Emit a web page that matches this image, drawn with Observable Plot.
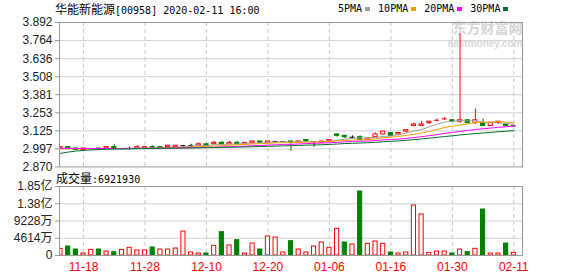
<!DOCTYPE html>
<html>
<head>
<meta charset="utf-8">
<script src="https://cdn.jsdelivr.net/npm/d3@7"></script>
<script src="https://cdn.jsdelivr.net/npm/@observablehq/plot@0.6"></script>
<style>
  html, body { margin: 0; padding: 0; background: #fff; }
  #wrap { position: relative; width: 578px; height: 276px; background: #fff; overflow: hidden; }
  .abs { position: absolute; white-space: nowrap; }
  .mono { font-family: "DejaVu Sans Mono", "Noto Sans CJK SC", monospace; font-size: 10px; color: #000; line-height: 12px; }
  .cjk { font-family: "Noto Sans CJK SC", sans-serif; font-size: 12px; }
  .sq { display: inline-block; width: 5px; height: 4px; margin-left: 3px; vertical-align: 1px; }
</style>
</head>
<body>
<div id="wrap">
  <div id="price" class="abs" style="left:0;top:0"></div>
  <div id="vol" class="abs" style="left:0;top:170px"></div>
  <div class="abs mono" style="left:55px;top:3px"><span class="cjk">华能新能源</span>[00958] 2020-02-11 16:00</div>
  <div id="legend" class="abs mono" style="left:338px;top:3px"></div>
  <div id="vlabel" class="abs mono" style="left:56px;top:172px"></div>
</div>
<script>
const dates = ["11-13","11-14","11-15","11-18","11-19","11-20","11-21","11-22","11-25","11-26",
  "11-27","11-28","11-29","12-02","12-03","12-04","12-05","12-06","12-09","12-10",
  "12-11","12-12","12-13","12-16","12-17","12-18","12-19","12-20","12-23","12-24",
  "12-27","12-30","12-31","01-02","01-03","01-06","01-07","01-08","01-09","01-10",
  "01-13","01-14","01-15","01-16","01-17","01-20","01-21","01-22","01-23","01-24",
  "01-29","01-30","01-31","02-03","02-04","02-05","02-06","02-07","02-10","02-11"];
const open = [3.00,3.01,3.00,2.99,3.00,3.00,3.00,3.01,3.00,3.00, 3.00,3.00,3.01,3.01,3.01,3.01,3.02,3.02,3.02,3.03,
  3.03,3.04,3.03,3.04,3.03,3.04,3.05,3.04,3.05,3.05, 3.05,3.04,3.06,3.05,3.04,3.05,3.10,3.09,3.08,3.08,
  3.06,3.08,3.10,3.11,3.10,3.12,3.16,3.16,3.18,3.20, 3.21,3.20,3.19,3.20,3.18,3.18,3.16,3.18,3.17,3.16];
const high = [3.01,3.01,3.00,3.00,3.00,3.00,3.01,3.03,3.00,3.01, 3.02,3.01,3.02,3.01,3.02,3.02,3.02,3.03,3.04,3.03,
  3.05,3.05,3.05,3.05,3.04,3.05,3.05,3.05,3.05,3.05, 3.05,3.05,3.06,3.05,3.05,3.06,3.10,3.09,3.09,3.09,
  3.07,3.11,3.12,3.11,3.11,3.13,3.18,3.19,3.19,3.21, 3.22,3.20,3.81,3.20,3.28,3.21,3.18,3.19,3.17,3.16];
const low = [3.00,3.00,2.99,2.99,2.99,2.99,3.00,3.00,2.99,2.99, 3.00,3.00,3.00,3.00,3.01,3.01,3.01,3.01,3.02,3.02,
  3.03,3.03,3.03,3.03,3.03,3.04,3.04,3.04,3.05,3.05, 2.98,3.04,3.05,3.01,3.04,3.05,3.08,3.07,3.07,3.06,
  3.06,3.08,3.10,3.09,3.09,3.11,3.16,3.16,3.17,3.19, 3.20,3.19,3.18,3.18,3.17,3.16,3.16,3.17,3.16,3.16];
const close = [3.01,3.00,2.99,3.00,3.00,2.99,3.01,3.00,3.00,3.00, 3.01,3.01,3.00,3.00,3.02,3.02,3.02,3.02,3.03,3.02,
  3.04,3.03,3.04,3.03,3.04,3.05,3.04,3.05,3.05,3.05, 3.04,3.05,3.05,3.05,3.05,3.06,3.09,3.08,3.08,3.06,
  3.07,3.10,3.12,3.09,3.11,3.13,3.17,3.17,3.19,3.20, 3.21,3.19,3.20,3.18,3.20,3.16,3.18,3.19,3.16,3.16];
const prevClose0 = 3.00;
const volume = [17.8e6,24e6,16e6,5.4e6,15e6,16e6,10.7e6,8.9e6,15e6,20.5e6,
  13.4e6,13.4e6,21.4e6,16e6,16e6,18.7e6,64e6,8e6,5.4e6,5.4e6,
  25.9e6,62.4e6,26.8e6,41e6,5.4e6,32e6,16e6,50.8e6,48e6,8e6,
  38.3e6,16e6,8e6,24e6,34.8e6,20.5e6,71.3e6,34.8e6,29.4e6,171e6,
  31.2e6,37.5e6,31.2e6,8e6,5.4e6,8e6,133.8e6,109.7e6,7e6,10.7e6,
  10.7e6,5.4e6,16e6,9e6,17.8e6,123e6,5.4e6,5.4e6,32e6,6921930];
const ma5 = [3.002,3.002,3.000,3.000,3.000,2.996,2.998,3.000,3.000,3.000, 3.004,3.004,3.004,3.004,3.008,3.010,3.012,3.016,3.022,3.022,
  3.026,3.028,3.032,3.032,3.036,3.038,3.040,3.042,3.046,3.048, 3.046,3.048,3.048,3.048,3.048,3.052,3.060,3.066,3.072,3.074,
  3.076,3.078,3.086,3.088,3.098,3.110,3.124,3.134,3.154,3.172, 3.188,3.192,3.198,3.196,3.196,3.186,3.184,3.182,3.178,3.170];
const ma10 = [2.998,2.998,2.998,2.999,2.999,2.999,2.999,2.999,3.000,3.000, 3.000,3.001,3.002,3.002,3.004,3.007,3.008,3.010,3.013,3.015,
  3.018,3.020,3.024,3.027,3.029,3.032,3.034,3.037,3.039,3.042, 3.042,3.044,3.045,3.047,3.048,3.049,3.054,3.057,3.060,3.061,
  3.064,3.069,3.076,3.080,3.086,3.093,3.101,3.110,3.121,3.135, 3.149,3.158,3.166,3.175,3.184,3.187,3.188,3.190,3.187,3.183];
const ma20 = [3.001,3.001,3.000,3.000,3.000,3.000,3.000,3.000,3.001,3.001, 3.001,3.002,3.002,3.003,3.003,3.004,3.005,3.006,3.007,3.008,
  3.009,3.011,3.013,3.015,3.017,3.020,3.021,3.024,3.026,3.029, 3.030,3.032,3.035,3.037,3.039,3.041,3.044,3.047,3.050,3.052,
  3.053,3.057,3.061,3.064,3.067,3.071,3.078,3.084,3.091,3.098, 3.107,3.114,3.121,3.128,3.135,3.140,3.145,3.150,3.154,3.159];
const ma30 = [2.966,2.975,2.982,2.987,2.990,2.993,2.995,2.996,2.997,2.998, 2.999,3.000,3.000,3.001,3.002,3.003,3.003,3.004,3.005,3.006,
  3.007,3.008,3.009,3.010,3.011,3.013,3.014,3.016,3.017,3.019, 3.020,3.022,3.024,3.025,3.027,3.029,3.032,3.035,3.037,3.039,
  3.041,3.044,3.048,3.051,3.054,3.058,3.063,3.068,3.073,3.079, 3.085,3.090,3.096,3.101,3.106,3.110,3.114,3.119,3.123,3.126];
const priceTicks = [2.870,2.997,3.125,3.253,3.381,3.508,3.636,3.764,3.892];
const priceTickLabels = ["2.870","2.997","3.125","3.253","3.381","3.508","3.636","3.764","3.892"];
const volTicks = [0,46140000,92280000,138420000,184560000];
const volTickLabels = ["0","4614万","9228万","1.38亿","1.85亿"];
const dateTickLabels = ["11-18","11-28","12-10","12-20","01-06","01-16","01-30","02-11"];
const maNames = ["5PMA","10PMA","20PMA","30PMA"];
const maColors = ["#a0a0a0","#f2a100","#ff00ff","#00702c"];
const title = "华能新能源[00958] 2020-02-11 16:00";
const volLabel = "成交量";
const lastVolume = 6921930;

const RED = "#ff0000", GREEN = "#008000", BLACK = "#000000";
const data = dates.map((d, i) => ({
  i, date: d, o: open[i], h: high[i], l: low[i], c: close[i], v: volume[i],
  pc: i ? close[i - 1] : prevClose0
}));
const candleColor = d => d.c > d.o ? RED : d.c < d.o ? GREEN : d.c > d.pc ? RED : d.c < d.pc ? GREEN : BLACK;
const volUp = d => d.c >= d.pc;
const maSeries = [ma5, ma10, ma20, ma30];
const maData = maSeries.map((arr, k) => arr.map((v, i) => ({i, v, k})));
const tickIdx = dateTickLabels.map(l => dates.indexOf(l));
const HW = 0.27;

const xOpt = {domain: [-0.13, 60.13], axis: null};
const common = {
  width: 578, marginLeft: 59, marginRight: 56,
  color: {type: "identity"},
  style: {fontFamily: "'Liberation Sans', 'Noto Sans CJK SC', sans-serif", fontSize: "12px", background: "transparent", color: "#222", overflow: "visible"}
};

const price = Plot.plot({
  ...common,
  height: 170, marginTop: 22, marginBottom: 3.6,
  x: xOpt,
  y: {domain: [2.870, 3.892], axis: null},
  marks: [
    Plot.text([title], {text: d => "东方财富网", frameAnchor: "top-right", textAnchor: "end", lineAnchor: "top", dy: 1, dx: 0, fontSize: 14, fontWeight: "bold", fill: "#d6d6d6", fontFamily: "Noto Sans CJK SC"}),
    Plot.text([title], {text: d => "eastmoney.com", frameAnchor: "top-right", textAnchor: "end", lineAnchor: "top", dy: 17, dx: 0, fontSize: 10, fontWeight: "bold", fill: "#dadada"}),
    Plot.ruleY(priceTicks.slice(1, -1), {stroke: "#d2d2d2"}),
    Plot.ruleX(tickIdx, {stroke: "#c8c8c8", strokeDasharray: "4,3"}),
    Plot.axisY({ticks: priceTicks, tickFormat: d => priceTickLabels[priceTicks.indexOf(d)], tickSize: 4, tickPadding: 3, stroke: "#999", fill: "#222", label: null}),
    Plot.ruleX(data, {x: "i", y1: "l", y2: "h", stroke: candleColor, clip: true}),
    Plot.rect(data.filter(d => d.o !== d.c), {x1: d => d.i - HW, x2: d => d.i + HW, y1: "o", y2: "c", fill: d => d.c > d.o ? "#ffffff" : GREEN, stroke: candleColor, clip: true}),
    Plot.ruleY(data.filter(d => d.o === d.c), {y: "c", x1: d => d.i - HW - 0.06, x2: d => d.i + HW + 0.06, stroke: candleColor, clip: true}),
    ...maData.map((arr, k) => Plot.line(arr, {x: "i", y: "v", stroke: maColors[k], strokeWidth: 1, clip: true})),
    Plot.frame({stroke: "#999"})
  ]
});
document.getElementById("price").appendChild(price);

const vol = Plot.plot({
  ...common,
  height: 106, marginTop: 16, marginBottom: 21,
  x: xOpt,
  y: {domain: [0, 184560000], axis: null},
  marks: [
    Plot.ruleY(volTicks.slice(1, -1), {stroke: "#d2d2d2"}),
    Plot.ruleX(tickIdx, {stroke: "#c8c8c8", strokeDasharray: "4,3"}),
    Plot.axisY({ticks: volTicks, tickFormat: d => volTickLabels[volTicks.indexOf(d)], tickSize: 4, tickPadding: 3, stroke: "#999", fill: "#222", label: null}),
    Plot.axisX({ticks: tickIdx, tickFormat: i => dates[i], tickSize: 0, tickPadding: 7, fill: RED, label: null}),
    Plot.rect(data, {x1: d => d.i - HW, x2: d => d.i + HW, y1: 0, y2: "v", fill: d => volUp(d) ? "#ffffff" : GREEN, stroke: d => volUp(d) ? RED : GREEN, clip: true}),
    Plot.frame({stroke: "#999"})
  ]
});
document.getElementById("vol").appendChild(vol);

const legend = document.getElementById("legend");
maNames.forEach((n, k) => {
  const s = document.createElement("span");
  s.style.marginRight = k < 3 ? "8px" : "0";
  s.innerHTML = n + `<span class="sq" style="background:${maColors[k]}"></span>`;
  legend.appendChild(s);
});
document.getElementById("vlabel").innerHTML = `<span class="cjk">${volLabel}</span>:${lastVolume}`;
</script>
</body>
</html>
